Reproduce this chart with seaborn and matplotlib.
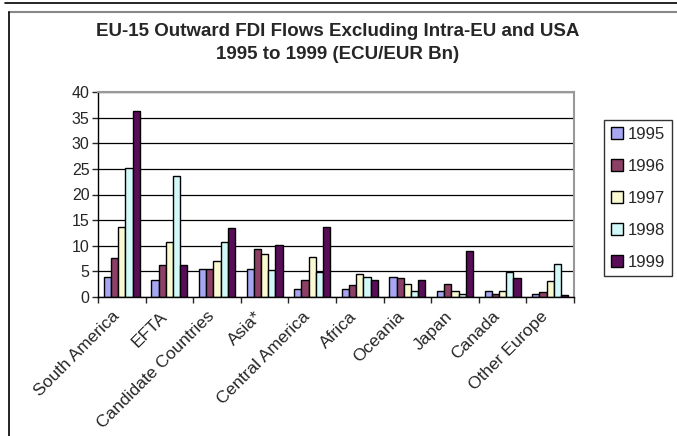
import pandas as pd
import numpy as np
import matplotlib.pyplot as plt
import matplotlib.transforms as mtransforms
import seaborn as sns
from matplotlib.lines import Line2D
from matplotlib.ticker import MultipleLocator, FixedLocator

# data (ECU/EUR Bn)
regions = ['South America', 'EFTA', 'Candidate Countries', 'Asia*', 'Central America',
           'Africa', 'Oceania', 'Japan', 'Canada', 'Other Europe']
years = ['1995', '1996', '1997', '1998', '1999']
v1995 = [3.9, 3.4, 5.5, 5.5, 1.6, 1.6, 4.0, 1.2, 1.2, 0.6]
v1996 = [7.7, 6.2, 5.5, 9.3, 3.4, 2.4, 3.7, 2.5, 0.6, 1.0]
v1997 = [13.7, 10.8, 7.1, 8.4, 7.8, 4.4, 2.5, 1.2, 1.2, 3.1]
v1998 = [25.1, 23.6, 10.8, 5.2, 4.9, 4.0, 1.2, 0.6, 4.9, 6.5]
v1999 = [36.3, 6.2, 13.4, 10.2, 13.6, 3.4, 3.4, 9.0, 3.7, 0.3]
colors = ['#9999FF', '#993366', '#FFFFCC', '#CCFFFF', '#660066']

df = pd.DataFrame({'region': regions * 5,
                   'year': np.repeat(years, len(regions)),
                   'value': v1995 + v1996 + v1997 + v1998 + v1999})

sns.set_style('white')
plt.rcParams['font.family'] = ['Liberation Sans', 'DejaVu Sans']

W, H = 677, 436
fig = plt.figure(figsize=(W / 100, H / 100), dpi=100)
ax = fig.add_axes([98 / W, 1 - 297 / H, 476 / W, 205 / H])

sns.barplot(data=df, x='region', y='value', hue='year', palette=colors,
            edgecolor='black', linewidth=1, width=0.76, ax=ax, legend=True)

ax.set_ylim(0, 40)
ax.set_xlim(-0.5, len(regions) - 0.5)
ax.yaxis.set_major_locator(MultipleLocator(5))
ax.grid(axis='y', color='black', linewidth=0.9)
ax.set_axisbelow(True)
ax.set_xlabel('')
ax.set_ylabel('')

for s in ['top', 'right']:
    ax.spines[s].set_color('#999999')
    ax.spines[s].set_linewidth(1.5)
for s in ['left', 'bottom']:
    ax.spines[s].set_color('black')
    ax.spines[s].set_linewidth(1)

ax.tick_params(axis='y', left=True, length=4, width=1, labelsize=11.5, pad=2)
ax.tick_params(axis='x', which='major', length=0, labelsize=12.5, pad=0)
ax.xaxis.set_minor_locator(FixedLocator(np.arange(-0.5, len(regions), 1)))
ax.tick_params(axis='x', which='minor', bottom=True, length=4, width=1)
offset = mtransforms.ScaledTranslation(-5 / 100, -17 / 100, fig.dpi_scale_trans)
for lab in ax.get_xticklabels():
    lab.set_rotation(45)
    lab.set_ha('right')
    lab.set_va('center')
    lab.set_rotation_mode('anchor')
    lab.set_transform(lab.get_transform() + offset)

h, l = ax.get_legend_handles_labels()
ax.get_legend().remove()
leg = fig.legend(h, l, loc='upper left', bbox_to_anchor=(604 / W, 1 - 120 / H),
                 frameon=True, fancybox=False, edgecolor='black', fontsize=12,
                 handlelength=0.75, handleheight=0.75, labelspacing=1.02,
                 borderpad=0.4, handletextpad=0.3, borderaxespad=0)
leg.get_frame().set_linewidth(1)

fig.text(0.4985, 1 - 43 / H, 'EU-15 Outward FDI Flows Excluding Intra-EU and USA\n1995 to 1999 (ECU/EUR Bn)',
         ha='center', va='center', fontsize=13.5, fontweight='bold', linespacing=1.45)

# chart frame pieces visible in the cropped screenshot
fig.add_artist(Line2D([5 / W, 1], [1 - 3 / H, 1 - 3 / H], color='black', linewidth=1.2))
fig.add_artist(Line2D([9 / W, 1], [1 - 12 / H, 1 - 12 / H], color='#888888', linewidth=1.5))
fig.add_artist(Line2D([9 / W, 9 / W], [1 - 12 / H, 0], color='black', linewidth=1.2))

fig.savefig('out.png', dpi=100)
